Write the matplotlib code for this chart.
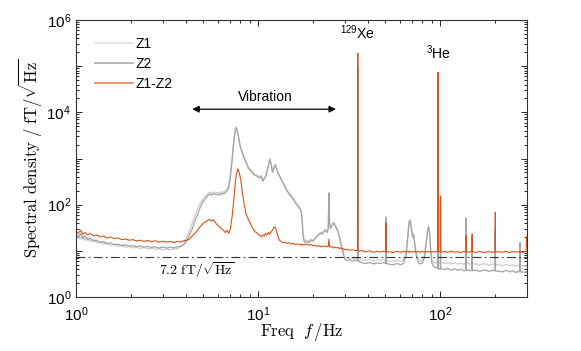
import matplotlib
matplotlib.use("Agg")
import matplotlib.pyplot as plt
import numpy as np
from matplotlib.ticker import FixedLocator, FuncFormatter, LogLocator, NullFormatter
from matplotlib.lines import Line2D

plt.rcParams['font.family'] = ['Liberation Sans', 'DejaVu Sans']
plt.rcParams['mathtext.fontset'] = 'cm'

freq = [
    1.00, 1.03, 1.06, 1.09, 1.12, 1.16, 1.20, 1.25, 1.30, 1.36,
    1.42, 1.48, 1.55, 1.62, 1.70, 1.78, 1.87, 1.96, 2.05, 2.15,
    2.25, 2.36, 2.48, 2.60, 2.72, 2.85, 3.00, 3.15, 3.30, 3.45,
    3.60, 3.75, 3.90, 4.05, 4.20, 4.35, 4.50, 4.65, 4.80, 4.95,
    5.10, 5.25, 5.40, 5.55, 5.70, 5.85, 6.00, 6.15, 6.30, 6.45,
    6.60, 6.75, 6.90, 7.05, 7.20, 7.35, 7.50, 7.60, 7.75, 7.90,
    8.05, 8.20, 8.40, 8.60, 8.80, 9.00, 9.20, 9.40, 9.60, 9.80,
    10.0, 10.2, 10.4, 10.6, 10.8, 11.0, 11.2, 11.4, 11.6, 11.8,
    12.0, 12.2, 12.4, 12.6, 12.8, 13.1, 13.4, 13.7, 14.0, 14.4,
    14.8, 15.2, 15.6, 16.0, 16.5, 17.0, 17.3, 17.5, 17.7, 18.0,
    18.5, 19.0, 19.5, 20.0, 20.5, 21.0, 21.5, 22.0, 22.5, 23.0,
    23.5, 24.0, 24.3, 24.5, 24.7, 25.0, 25.5, 26.0, 26.5, 27.0,
    27.5, 28.0, 28.5, 29.0, 29.5, 30.0, 31.0, 32.0, 33.0, 34.0,
    35.0, 35.2, 35.3, 35.4, 36.0, 37.0, 39.0, 41.0, 43.0, 45.0,
    47.0, 49.0, 50.2, 50.4, 50.6, 52.0, 55.0, 58.0, 61.0, 63.0,
    65.0, 66.5, 67.5, 68.5, 69.5, 70.5, 71.5, 72.5, 74.0, 76.0,
    78.0, 80.0, 82.0, 84.0, 85.5, 86.5, 87.5, 88.5, 90.0, 92.0,
    94.0, 96.0, 97.3, 97.5, 97.7, 99.0, 100.3, 100.5, 100.7, 102.0,
    106.0, 110.0, 115.0, 120.0, 125.0, 130.0, 135.0, 138.7, 139.0, 139.3,
    143.0, 146.0, 149.6, 150.0, 150.4, 156.0, 165.0, 175.0, 185.0, 195.0,
    200.5, 201.0, 201.5, 210.0, 220.0, 230.0, 240.0, 250.0, 260.0, 270.0,
    274.3, 275.0, 275.7, 285.0, 293.0, 297.0, 298.0, 300.0,
]

z1 = [
    20, 23, 18, 22, 17, 20, 16, 18, 15, 16,
    14, 15, 13, 14, 12.5, 13, 12, 12.5, 11.5, 12,
    11.2, 11.8, 11, 11.4, 10.8, 11.2, 10.5, 11, 10.6, 11,
    11.2, 12, 14, 19, 28, 40, 58, 80, 105, 130,
    150, 165, 185, 175, 190, 180, 185, 175, 190, 185,
    195, 215, 250, 450, 1000, 2400, 4300, 4900, 3700, 2400,
    1700, 1400, 1050, 850, 700, 600, 550, 500, 460, 440,
    420, 400, 430, 340, 380, 420, 550, 740, 1000, 780,
    520, 630, 750, 650, 520, 440, 370, 310, 260, 210,
    180, 160, 140, 115, 100, 85, 72, 42, 22, 17,
    17, 16, 18, 17, 19, 21, 23, 25, 24, 27,
    29, 26, 31, 150, 42, 32, 37, 42, 37, 32,
    27, 21, 15, 12, 9, 7.2, 7.0, 7.2, 6.8, 7.0,
    6.8, 7.0, 100000, 7.0, 6.6, 6.4, 6.2, 6.5, 6.1, 6.4,
    6.2, 6.5, 6.2, 55, 6.2, 6.0, 5.8, 6.2, 5.9, 6.3,
    9, 22, 44, 48, 32, 22, 24, 15, 9, 6.5,
    6.0, 6.4, 8, 17, 30, 35, 27, 13, 6.5, 5.6,
    5.4, 5.6, 5.5, 60000, 5.5, 5.5, 5.6, 120, 5.5, 5.6,
    5.3, 5.6, 5.2, 5.5, 5.2, 5.4, 5.1, 5.3, 51, 5.3,
    5.4, 5.1, 5.3, 20, 5.3, 5.2, 5.0, 5.3, 4.9, 5.2,
    5.0, 30, 5.0, 5.0, 4.8, 5.1, 4.8, 5.0, 4.7, 4.9,
    4.8, 15, 4.8, 4.8, 4.6, 4.8, 4.6, 4.6,
]

z2 = [
    22, 19, 24, 18, 21, 17, 19, 16, 17, 15,
    16, 14, 15, 13.5, 14, 13, 13.5, 12.5, 13, 12.3,
    12.8, 12, 12.5, 11.8, 12.2, 11.5, 12, 11.5, 12, 11.6,
    12.2, 12.5, 13.5, 16, 22, 30, 45, 60, 85, 110,
    130, 150, 170, 160, 175, 165, 170, 160, 175, 170,
    180, 200, 230, 400, 900, 2200, 4000, 4600, 3500, 2200,
    1600, 1300, 1000, 800, 650, 560, 520, 470, 430, 420,
    400, 380, 410, 320, 360, 400, 520, 700, 950, 750,
    500, 600, 720, 620, 500, 420, 350, 300, 250, 200,
    170, 150, 130, 110, 95, 80, 70, 40, 20, 15,
    16, 15, 17, 16, 18, 20, 22, 24, 23, 26,
    28, 25, 30, 180, 40, 30, 35, 40, 35, 30,
    26, 20, 14, 11, 8, 6.5, 6.2, 6.5, 6.0, 6.3,
    6.0, 6.2, 100000, 6.2, 5.8, 5.6, 5.3, 5.6, 5.2, 5.5,
    5.3, 5.6, 5.3, 50, 5.3, 5.2, 5.0, 5.3, 5.0, 5.4,
    8, 20, 40, 45, 30, 20, 22, 14, 8, 5.5,
    5.2, 5.6, 7, 15, 28, 32, 25, 12, 5.5, 4.6,
    4.4, 4.2, 4.2, 60000, 4.2, 4.0, 4.1, 120, 4.1, 4.1,
    3.9, 4.2, 3.8, 4.1, 3.8, 4.0, 3.7, 3.8, 51, 3.8,
    3.9, 3.7, 3.8, 20, 3.8, 3.8, 3.6, 3.9, 3.6, 3.8,
    3.7, 30, 3.7, 3.6, 3.5, 3.8, 3.5, 3.7, 3.4, 3.6,
    3.5, 15, 3.5, 3.5, 3.4, 3.6, 3.4, 3.4,
]

diff = [
    27, 24, 28, 23, 25, 22, 24, 21, 22, 20,
    21, 19, 20, 18.5, 19, 17.5, 18, 17, 17.5, 16.5,
    17, 16, 16.8, 15.8, 16.5, 15.5, 16.2, 15.5, 16, 15.2,
    16, 15.5, 16.5, 17, 18, 21, 24, 28, 33, 38,
    42, 45, 48, 44, 47, 40, 36, 33, 30, 28,
    25, 28, 24, 30, 55, 120, 300, 450, 600, 480,
    330, 180, 100, 62, 50, 42, 35, 30, 26, 25,
    23, 22, 20, 22, 21, 24, 22, 25, 23, 26,
    28, 32, 33, 28, 22, 17, 16, 15, 15.5, 14.5,
    15, 14, 14.5, 13.8, 14.2, 13.5, 14, 13.2, 13.8, 13.5,
    14, 13.2, 13.8, 12.8, 13.2, 12.5, 13, 12.2, 12.8, 12.4,
    12.8, 12.2, 12.6, 18, 12.2, 12, 12.5, 11.5, 12, 11.6,
    11.8, 11.2, 11.6, 10.8, 11.2, 10.5, 10.8, 10.3, 10.6, 10.2,
    10.2, 10.5, 190000, 10.5, 9.8, 10.2, 9.5, 10, 9.3, 9.8,
    9.4, 9.8, 9.5, 40, 9.6, 9.6, 9.2, 9.8, 9.3, 9.7,
    9.5, 9.9, 9.3, 9.8, 9.4, 9.7, 9.3, 9.8, 9.4, 9.7,
    9.3, 9.8, 9.4, 9.7, 9.3, 9.8, 9.5, 9.6, 9.3, 9.8,
    9.4, 9.7, 9.5, 74000, 9.5, 9.6, 9.5, 154, 9.6, 9.3,
    9.7, 9.3, 9.8, 9.4, 9.6, 9.2, 9.7, 9.5, 21, 9.5,
    9.3, 9.6, 9.5, 23, 9.6, 9.3, 9.7, 9.2, 9.6, 9.3,
    9.5, 69, 9.4, 9.6, 9.3, 9.8, 9.2, 9.7, 9.4, 9.6,
    9.3, 9.6, 9.4, 9.3, 9.7, 9.5, 20, 20,
]

noise_floor = 7.2
labels = ['Z1', 'Z2', 'Z1-Z2']
colors = ['#cbcbcb', '#a3a3a3', '#D95319']

fig = plt.figure(figsize=(5.81, 3.51), dpi=100)
ax = fig.add_axes([0.1308, 0.1538, 0.7762, 0.7892])

ax.plot(freq, z1, color=colors[0], lw=0.9)
ax.plot(freq, z2, color=colors[1], lw=0.9)
ax.plot(freq, diff, color=colors[2], lw=0.8)
ax.axhline(noise_floor, color='#333333', lw=0.8, ls=(0, (8, 3, 1.5, 3)))

ax.set_xscale('log')
ax.set_yscale('log')
ax.set_xlim(1, 300)
ax.set_ylim(1, 1e6)

ax.yaxis.set_major_locator(FixedLocator([1e0, 1e1, 1e2, 1e3, 1e4, 1e5, 1e6]))
ax.yaxis.set_major_formatter(FuncFormatter(
    lambda v, p: r'$\mathregular{10^{%d}}$' % round(np.log10(v)) if round(np.log10(v)) % 2 == 0 else ''))
ax.yaxis.set_minor_locator(LogLocator(base=10, subs=np.arange(2, 10), numticks=20))
ax.yaxis.set_minor_formatter(NullFormatter())
ax.xaxis.set_major_locator(FixedLocator([1, 10, 100]))
ax.xaxis.set_major_formatter(FuncFormatter(lambda v, p: r'$\mathregular{10^{%d}}$' % round(np.log10(v))))
ax.xaxis.set_minor_locator(LogLocator(base=10, subs=np.arange(2, 10), numticks=20))
ax.xaxis.set_minor_formatter(NullFormatter())
ax.tick_params(which='both', direction='in', top=True, right=True, labelsize=11, width=0.6)
ax.tick_params(which='major', length=4)
ax.tick_params(which='minor', length=2)
ax.tick_params(axis='x', pad=6)
for s in ax.spines.values():
    s.set_linewidth(0.8)
    s.set_color('#333333')

ax.set_xlabel(r'$\mathrm{Freq}\ \ f\,/\mathrm{Hz}$', fontsize=12, labelpad=-2)
ax.set_ylabel(r'$\mathrm{Spectral\ density\ /\ fT}/\sqrt{\mathrm{Hz}}$', fontsize=12, labelpad=2)

handles = [Line2D([], [], color=c, lw=1.2, alpha=a) for c, a in zip(colors, [0.6, 0.9, 0.7])]
ax.legend(handles, labels, loc='upper left', frameon=False, fontsize=10,
          handlelength=2.7, handletextpad=0.2, labelspacing=0.45,
          bbox_to_anchor=(0.015, 0.985))

ax.annotate('', xy=(4.35, 11700), xytext=(26.8, 11700),
            arrowprops=dict(arrowstyle='<|-|>', color='black', lw=0.9,
                            mutation_scale=10, shrinkA=0, shrinkB=0))
ax.text(10.9, 15500, 'Vibration', ha='center', va='bottom', fontsize=10)
ax.text(35.3, 3.3e5, r'$\mathregular{^{129}}$Xe', ha='center', va='bottom', fontsize=10)
ax.text(97.5, 1.25e5, r'$\mathregular{^{3}}$He', ha='center', va='bottom', fontsize=10)
ax.text(4.58, 3.85, r'$7.2\ \mathrm{fT}/\sqrt{\mathrm{Hz}}$', ha='center', va='center', fontsize=10)

fig.savefig('out.png', dpi=100)
